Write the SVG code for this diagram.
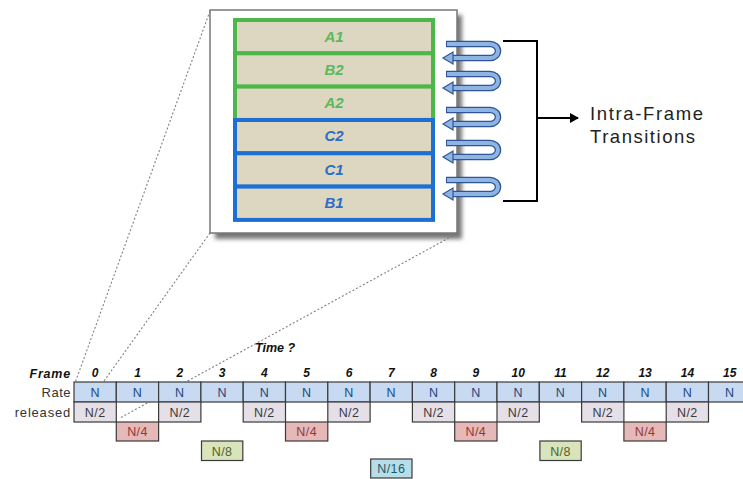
<svg xmlns="http://www.w3.org/2000/svg" width="743" height="479" viewBox="0 0 743 479">
<style>
.bar{fill:#DDD7C1;stroke-width:4}
.g{stroke:#4DB84A}
.b{stroke:#1C6FD4}
.bl{font-family:"Liberation Sans",Arial,sans-serif;font-size:15px;font-weight:bold;font-style:italic;text-anchor:middle}
.gt{fill:#5CB85A}
.bt{fill:#2E6CC6}
.dot{stroke:#808080;stroke-width:1.1;stroke-dasharray:2 2;fill:none}
.lbl{font-family:"Liberation Sans",Arial,sans-serif;font-size:13px;fill:#333;text-anchor:end}
.num{font-family:"Liberation Sans",Arial,sans-serif;font-size:12px;font-weight:bold;font-style:italic;fill:#111;text-anchor:middle}
.cell{stroke:#3a3a3a;stroke-width:1.2}
.ct{font-family:"Liberation Sans",Arial,sans-serif;font-size:12.5px;text-anchor:middle;letter-spacing:0.4px}
.rate{fill:#C7DAF1}
.half{fill:#E5E0E8}
.q{fill:#E6B8B7}
.e{fill:#D8E4BC}
.s{fill:#B7DEE8}
.side{font-family:"Liberation Sans",Arial,sans-serif;font-size:18.5px;fill:#222}
</style>
<defs>
<filter id="blur" x="-10%" y="-10%" width="120%" height="120%"><feGaussianBlur stdDeviation="2"/></filter>
<marker id="ah" markerWidth="10" markerHeight="10" refX="8" refY="5" orient="auto" markerUnits="userSpaceOnUse"><path d="M0,0 L9,5 L0,10 Z" fill="#000"/></marker>
<g id="loop">
<path d="M446,-7 L490,-7 A8,7 0 0 1 490,7 L452,7" fill="none" stroke="#2F5597" stroke-width="6.5" stroke-linecap="butt"/>
<path d="M447,-7 L490,-7 A8,7 0 0 1 490,7 L452,7" fill="none" stroke="#8EB4E3" stroke-width="4"/>
<polygon points="443,7 453,1 453,13" fill="#8EB4E3" stroke="#2F5597" stroke-width="1.2"/>
</g>
</defs>

<g id="connectors">
<line class="dot" x1="210" y1="11" x2="75" y2="383"/>
<line class="dot" x1="210" y1="233" x2="104" y2="381"/>
<line class="dot" x1="456" y1="234" x2="120" y2="418"/>
</g>

<g id="frame">
<rect x="215" y="15" width="247" height="224" fill="#777" filter="url(#blur)"/>
<rect x="210" y="10" width="247" height="223" fill="#fff" stroke="#777" stroke-width="1.5"/>
</g>

<g id="bar-A1"><rect class="bar g" x="235" y="20" width="198" height="33.3"/><text class="bl gt" x="334" y="42">A1</text></g>
<g id="bar-B2"><rect class="bar g" x="235" y="53.3" width="198" height="33.3"/><text class="bl gt" x="334" y="75">B2</text></g>
<g id="bar-A2"><rect class="bar g" x="235" y="86.6" width="198" height="33.3"/><text class="bl gt" x="334" y="108">A2</text></g>
<g id="bar-C2"><rect class="bar b" x="235" y="120" width="198" height="33.3"/><text class="bl bt" x="334" y="141">C2</text></g>
<g id="bar-C1"><rect class="bar b" x="235" y="153.3" width="198" height="33.3"/><text class="bl bt" x="334" y="175">C1</text></g>
<g id="bar-B1"><rect class="bar b" x="235" y="186.6" width="198" height="33.3"/><text class="bl bt" x="334" y="208">B1</text></g>

<g id="loops">
<use href="#loop" y="51"/>
<use href="#loop" y="81"/>
<use href="#loop" y="117"/>
<use href="#loop" y="150"/>
<use href="#loop" y="187"/>
</g>

<g id="bracket">
<path d="M503,41 L537,41 L537,201 L503,201" fill="none" stroke="#000" stroke-width="2"/>
<line x1="537" y1="118" x2="578" y2="118" stroke="#000" stroke-width="2" marker-end="url(#ah)"/>
</g>
<g id="label-intra">
<text class="side" x="590" y="120" textLength="113" lengthAdjust="spacing">Intra-Frame</text>
<text class="side" x="590" y="143" textLength="105" lengthAdjust="spacing">Transitions</text>
</g>

<g id="time-label"><text x="255" y="352" font-family="Liberation Sans,Arial,sans-serif" font-size="12.5" font-weight="bold" font-style="italic" fill="#111">Time ?</text></g>

<g id="row-labels">
<text x="71" y="378" font-family="Liberation Sans,Arial,sans-serif" font-size="12.5" font-weight="bold" font-style="italic" fill="#111" text-anchor="end" letter-spacing="0.8">Frame</text>
<text class="lbl" x="71" y="397" letter-spacing="0.5">Rate</text>
<text class="lbl" x="71" y="417" letter-spacing="0.8">released</text>
</g>

<g id="frame-numbers">
<text class="num" x="95.2" y="377">0</text>
<text class="num" x="137.5" y="377">1</text>
<text class="num" x="179.8" y="377">2</text>
<text class="num" x="222.1" y="377">3</text>
<text class="num" x="264.4" y="377">4</text>
<text class="num" x="306.7" y="377">5</text>
<text class="num" x="349" y="377">6</text>
<text class="num" x="391.3" y="377">7</text>
<text class="num" x="433.6" y="377">8</text>
<text class="num" x="475.9" y="377">9</text>
<text class="num" x="518.2" y="377">10</text>
<text class="num" x="560.5" y="377">11</text>
<text class="num" x="602.8" y="377">12</text>
<text class="num" x="645.1" y="377">13</text>
<text class="num" x="687.4" y="377">14</text>
<text class="num" x="729.7" y="377">15</text>
</g>

<g id="rate-row" fill="#1F497D">
<rect class="cell rate" x="74" y="382" width="42.3" height="20"/>
<rect class="cell rate" x="116.3" y="382" width="42.3" height="20"/>
<rect class="cell rate" x="158.6" y="382" width="42.3" height="20"/>
<rect class="cell rate" x="200.9" y="382" width="42.3" height="20"/>
<rect class="cell rate" x="243.2" y="382" width="42.3" height="20"/>
<rect class="cell rate" x="285.5" y="382" width="42.3" height="20"/>
<rect class="cell rate" x="327.8" y="382" width="42.3" height="20"/>
<rect class="cell rate" x="370.1" y="382" width="42.3" height="20"/>
<rect class="cell rate" x="412.4" y="382" width="42.3" height="20"/>
<rect class="cell rate" x="454.7" y="382" width="42.3" height="20"/>
<rect class="cell rate" x="497" y="382" width="42.3" height="20"/>
<rect class="cell rate" x="539.3" y="382" width="42.3" height="20"/>
<rect class="cell rate" x="581.6" y="382" width="42.3" height="20"/>
<rect class="cell rate" x="623.9" y="382" width="42.3" height="20"/>
<rect class="cell rate" x="666.2" y="382" width="42.3" height="20"/>
<rect class="cell rate" x="708.5" y="382" width="42.3" height="20"/>
<text class="ct" x="95.2" y="396.5">N</text>
<text class="ct" x="137.5" y="396.5">N</text>
<text class="ct" x="179.8" y="396.5">N</text>
<text class="ct" x="222.1" y="396.5">N</text>
<text class="ct" x="264.4" y="396.5">N</text>
<text class="ct" x="306.7" y="396.5">N</text>
<text class="ct" x="349" y="396.5">N</text>
<text class="ct" x="391.3" y="396.5">N</text>
<text class="ct" x="433.6" y="396.5">N</text>
<text class="ct" x="475.9" y="396.5">N</text>
<text class="ct" x="518.2" y="396.5">N</text>
<text class="ct" x="560.5" y="396.5">N</text>
<text class="ct" x="602.8" y="396.5">N</text>
<text class="ct" x="645.1" y="396.5">N</text>
<text class="ct" x="687.4" y="396.5">N</text>
<text class="ct" x="729.7" y="396.5">N</text>
</g>

<g id="half-row" fill="#3a3a3a">
<rect class="cell half" x="74" y="402" width="42.3" height="20"/>
<rect class="cell half" x="158.6" y="402" width="42.3" height="20"/>
<rect class="cell half" x="243.2" y="402" width="42.3" height="20"/>
<rect class="cell half" x="327.8" y="402" width="42.3" height="20"/>
<rect class="cell half" x="412.4" y="402" width="42.3" height="20"/>
<rect class="cell half" x="497" y="402" width="42.3" height="20"/>
<rect class="cell half" x="581.6" y="402" width="42.3" height="20"/>
<rect class="cell half" x="666.2" y="402" width="42.3" height="20"/>
<text class="ct" x="95.2" y="416.5">N/2</text>
<text class="ct" x="179.8" y="416.5">N/2</text>
<text class="ct" x="264.4" y="416.5">N/2</text>
<text class="ct" x="349" y="416.5">N/2</text>
<text class="ct" x="433.6" y="416.5">N/2</text>
<text class="ct" x="518.2" y="416.5">N/2</text>
<text class="ct" x="602.8" y="416.5">N/2</text>
<text class="ct" x="687.4" y="416.5">N/2</text>
</g>

<g id="quarter-row" fill="#8E3B38">
<rect class="cell q" x="116.3" y="422" width="42.3" height="19"/>
<rect class="cell q" x="285.5" y="422" width="42.3" height="19"/>
<rect class="cell q" x="454.7" y="422" width="42.3" height="19"/>
<rect class="cell q" x="623.9" y="422" width="42.3" height="19"/>
<text class="ct" x="137.5" y="436">N/4</text>
<text class="ct" x="306.7" y="436">N/4</text>
<text class="ct" x="475.9" y="436">N/4</text>
<text class="ct" x="645.1" y="436">N/4</text>
</g>

<g id="eighth-row" fill="#4F6228">
<rect class="cell e" x="201.5" y="441" width="41.3" height="19.5"/>
<rect class="cell e" x="539.9" y="441" width="41.3" height="19.5"/>
<text class="ct" x="222.1" y="455.5">N/8</text>
<text class="ct" x="560.5" y="455.5">N/8</text>
</g>

<g id="sixteenth-row" fill="#215967">
<rect class="cell s" x="370.7" y="459" width="41.3" height="19"/>
<text class="ct" x="391.3" y="473">N/16</text>
</g>
</svg>
